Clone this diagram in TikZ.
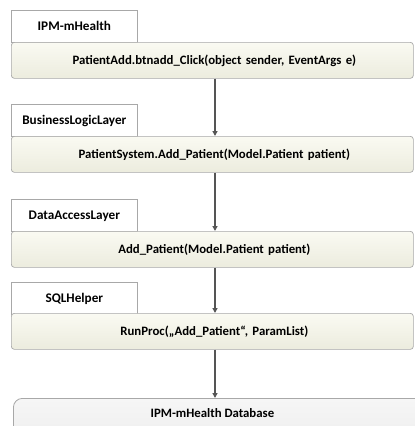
\documentclass[tikz,border=0pt]{standalone}
\usepackage{fontspec}
\setmainfont{Carlito}
\usetikzlibrary{arrows.meta}
\definecolor{edgegray}{HTML}{A8A8A8}
\definecolor{arrowgray}{HTML}{555555}
\definecolor{creamtop}{HTML}{FAFAF2}
\definecolor{creambot}{HTML}{ECECDE}
\definecolor{dbtop}{HTML}{F6F6F6}
\definecolor{dbbot}{HTML}{EEEEEE}
\tikzset{
  x=1pt, y=-1pt,
  layerbox/.style={draw=edgegray, fill=white, line width=0.7pt, anchor=north west,
    minimum width=126pt, minimum height=32pt, inner sep=0pt,
    text height=9pt, text depth=0pt,
    font=\bfseries\fontsize{13.2}{15}\selectfont},
  callbox/.style={draw=edgegray, line width=0.7pt, rounded corners=3pt, anchor=north west,
    top color=creamtop, bottom color=creambot,
    minimum width=402pt, minimum height=36pt, inner sep=0pt,
    text width=402pt, align=center,
    font=\bfseries\fontsize{12.8}{15}\selectfont},
  dbbox/.style={draw=edgegray, line width=0.8pt, rounded corners=9pt, anchor=north west,
    top color=dbtop, bottom color=dbbot,
    minimum width=420pt, minimum height=44pt, inner sep=0pt,
    text height=9pt, text depth=14pt,
    font=\bfseries\fontsize{12.8}{15}\selectfont},
  flow/.style={draw=arrowgray, line width=1.3pt, -{Triangle[length=5pt,width=5pt]}},
}
\begin{document}
\begin{tikzpicture}
\useasboundingbox (0,0) rectangle (415,426);
\clip (0,0) rectangle (415,426);
\fill[white] (0,0) rectangle (415,426);
\coordinate (col) at (215,0);

% presentation layer
\node[layerbox] (h1) at (11,10) {IPM-mHealth};
\node[callbox] (m1) at (11,42) {\hspace*{4pt}PatientAdd.btnadd\_Click(object sender, EventArgs e)};

% business logic layer
\node[layerbox] (h2) at (11,104) {BusinessLogicLayer};
\node[callbox] (m2) at (11,136) {\hspace*{4pt}PatientSystem.Add\_Patient(Model.Patient patient)};

% data access layer
\node[layerbox] (h3) at (11,199) {DataAccessLayer};
\node[callbox] (m3) at (11,231) {\hspace*{4pt}Add\_Patient(Model.Patient patient)};

% SQL helper
\node[layerbox] (h4) at (11,282) {SQLHelper};
\node[callbox] (m4) at (11,313) {\hspace*{4pt}RunProc(„Add\_Patient“, ParamList)};

% database
\node[dbbox] (db) at (13,398) {\hspace*{-22pt}IPM-mHealth Database};

% call flow
\draw[flow] (m1.south -| col) -- (m2.north -| col);
\draw[flow] (m2.south -| col) -- (m3.north -| col);
\draw[flow] (m3.south -| col) -- (m4.north -| col);
\draw[flow] (m4.south -| col) -- (db.north -| col);
\end{tikzpicture}
\end{document}
